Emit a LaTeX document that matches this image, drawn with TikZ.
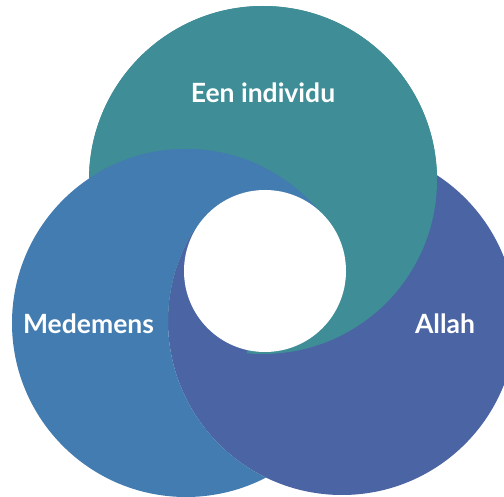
\documentclass[tikz,border=0pt]{standalone}
\usepackage{fontspec}
\setmainfont{Lato}
\definecolor{tealc}{HTML}{3F8D97}
\definecolor{leftc}{HTML}{437CB0}
\definecolor{rightc}{HTML}{4A64A4}
\begin{document}
\begin{tikzpicture}[x=1pt,y=-1pt,
  lbl/.style={text=white,font=\fontsize{26.5}{30}\selectfont\bfseries,anchor=base,inner sep=0pt}]
\useasboundingbox (0,0) rectangle (504,497);
\fill[white] (0,0) rectangle (504,497);
% centres
\coordinate (T) at (263,180);
\coordinate (L) at (186,323);
\coordinate (R) at (342,321);
\coordinate (W) at (265,271);
\def\rr{174pt}
% 1: right circle, bottom layer
\fill[rightc] (R) circle[radius=\rr];
% 2: top circle, outside the right circle ...
\begin{scope}[even odd rule]
\clip (-1000,-1000) rectangle (1500,1500) (R) circle[radius=\rr];
\fill[tealc] (T) circle[radius=\rr];
\end{scope}
% ... and everywhere except the lower-left sector
\begin{scope}
\clip (W) -- (-445,-139) -- (-445,-1000) -- (1500,-1000) -- (1500,1500) -- (85,1081) -- cycle;
\fill[tealc] (T) circle[radius=\rr];
\end{scope}
% 3: left circle, outside the right circle ...
\begin{scope}[even odd rule]
\clip (-1000,-1000) rectangle (1500,1500) (R) circle[radius=\rr];
\fill[leftc] (L) circle[radius=\rr];
\end{scope}
% ... and in the upper sector
\begin{scope}
\clip (W) -- (-445,-139) -- (-445,-1000) -- (875,-1000) -- (875,-279) -- cycle;
\fill[leftc] (L) circle[radius=\rr];
\end{scope}
% centre hole
\fill[white] (W) circle[radius=81pt];
\node[lbl] (t1) at (263,103) {Een individu};
\node[lbl] (t2) at (88.5,334) {Medemens};
\node[lbl] (t3) at (445,334) {Allah};
\end{tikzpicture}
\end{document}
